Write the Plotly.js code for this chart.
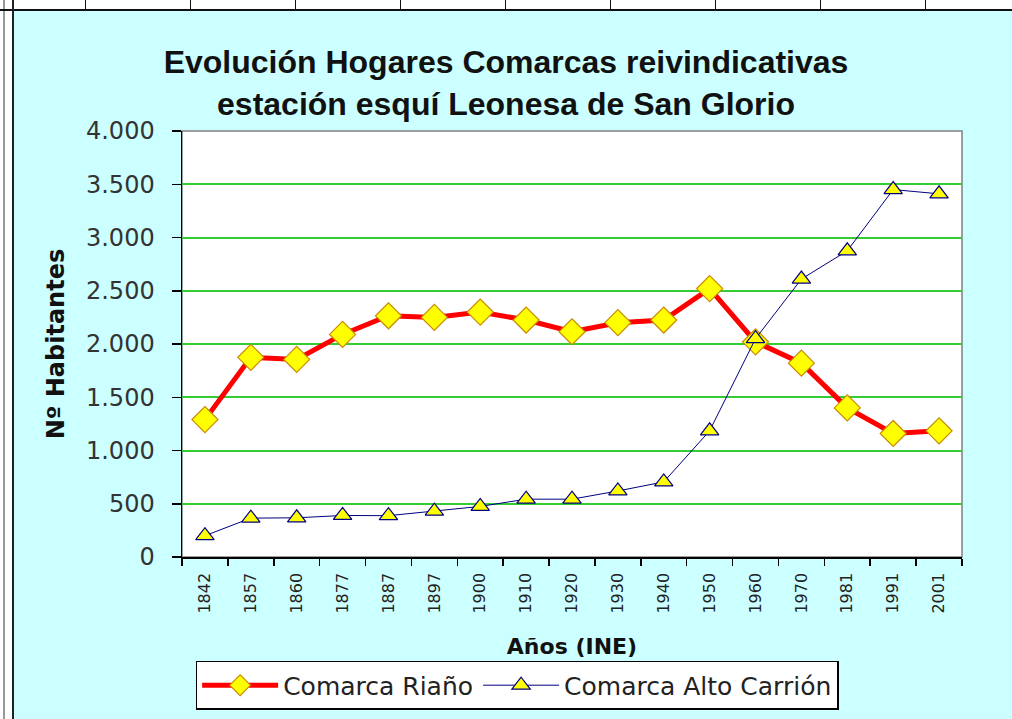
<!DOCTYPE html>
<html>
<head>
<meta charset="utf-8">
<script src="https://cdn.plot.ly/plotly-3.0.1.min.js"></script>
<style>
html,body{margin:0;padding:0;background:#fff;width:1012px;height:719px;overflow:hidden;position:relative;}
#chart{position:absolute;left:14px;top:11px;width:998px;height:708px;}
.vl{position:absolute;top:0;height:10px;width:1px;background:#111;}
#topline{position:absolute;left:0;top:9px;width:1012px;height:2px;background:#111;}
#leftline{position:absolute;left:12px;top:0;width:2px;height:719px;background:#222;}
#leftgray{position:absolute;left:3px;top:0;width:2px;height:719px;background:#999;}
</style>
</head>
<body>
<div id="leftgray"></div>
<div id="topline"></div>
<div id="leftline"></div>
<div id="chart"></div>
<script>
var years = ["1842","1857","1860","1877","1887","1897","1900","1910","1920","1930","1940","1950","1960","1970","1981","1991","2001"];
var riano = [1290,1875,1855,2090,2265,2250,2300,2225,2115,2200,2225,2520,2020,1820,1400,1160,1185];
var altoCarrion = [200,365,368,390,388,430,475,543,543,620,705,1185,2050,2610,2875,3450,3410];
var colLines = [85,190,295,400,505,610,715,820,925];

colLines.forEach(function(x){
  var d=document.createElement('div'); d.className='vl'; d.style.left=x+'px'; document.body.appendChild(d);
});

var font = "Liberation Sans, Arial, sans-serif";
var wide = "DejaVu Sans, sans-serif";
var traces = [
  {x: years, y: riano, name: "Comarca Riaño", type: "scatter", mode: "lines+markers",
   line: {color: "#ff0000", width: 5},
   marker: {symbol: "diamond", size: 20, color: "#ffff00", line: {color: "#c88a00", width: 1.2}}},
  {x: years, y: altoCarrion, name: "Comarca Alto Carrión", type: "scatter", mode: "lines+markers",
   line: {color: "#000080", width: 1},
   marker: {symbol: "triangle-up", size: 16, color: "#ffff00", line: {color: "#000080", width: 1.2}}}
];

var layout = {
  width: 998, height: 708,
  paper_bgcolor: "#ccffff", plot_bgcolor: "#ffffff",
  separators: ",.",
  margin: {l: 168, r: 50, t: 120, b: 162},
  showlegend: true,
  title: {text: "<b>Evolución Hogares Comarcas reivindicativas<br>estación esquí Leonesa de San Glorio</b>",
          font: {family: font, size: 32, color: "#111"}, x: 0.493, xref: "container",
          y: 0.912, yref: "container", yanchor: "top"},
  xaxis: {type: "category", range: [-0.5, 16.5], showgrid: false, showline: true, linecolor: "#000", linewidth: 1.5,
          ticks: "outside", tickson: "boundaries", ticklen: 7, tickcolor: "#000", tickwidth: 1.5,
          ticklabelstandoff: 8,
          tickangle: -90, tickfont: {family: wide, size: 16, color: "#222"},
          title: {text: "<b>Años (INE)</b>", font: {family: wide, size: 22, color: "#111"}, standoff: 26}},
  yaxis: {range: [0, 4000], dtick: 500, tickformat: ",d", showgrid: true, gridcolor: "#33cc33", gridwidth: 2,
          zeroline: false, showline: true, linecolor: "#000", linewidth: 1.5,
          ticks: "outside", ticklen: 9, tickcolor: "#000", tickwidth: 1.5,
          ticklabelstandoff: 12,
          tickfont: {family: wide, size: 24, color: "#333"},
          title: {text: "<b>Nº Habitantes</b>", font: {family: wide, size: 24, color: "#111"}, standoff: 14}},
  shapes: [{type: "rect", xref: "paper", yref: "paper", x0: 0, x1: 1, y0: 0, y1: 1,
            line: {color: "#808080", width: 1.5}, layer: "below"}],
  legend: {orientation: "h", xref: "container", yref: "container", x: 0.182, xanchor: "left",
           y: 0.082, yanchor: "top", bgcolor: "#ffffff", bordercolor: "#000", borderwidth: 1.5,
           font: {family: wide, size: 25, color: "#222"}, itemwidth: 76, tracegroupgap: 0}
};

Plotly.newPlot("chart", traces, layout, {displayModeBar: false, staticPlot: true});
</script>
</body>
</html>
